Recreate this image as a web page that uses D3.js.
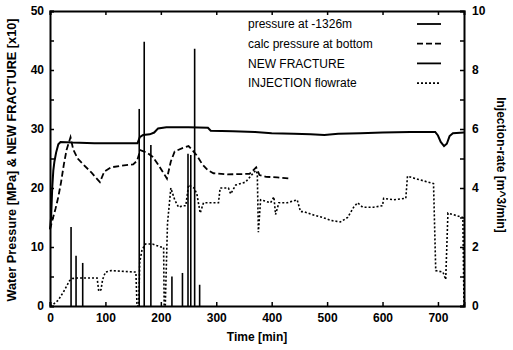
<!DOCTYPE html>
<html lang="en">
<head>
<meta charset="UTF-8">
<title>Water pressure and injection rate</title>
<style>
  body { margin: 0; background: #fff; }
  svg { display: block; }
  text { font-family: "Liberation Sans", Arial, Helvetica, sans-serif; fill: #000; }
  .axis text { font-size: 12px; font-weight: bold; }
  .axis path, .axis line { stroke: #000; }
  .axis path { stroke-width: 2; }
  .axis line { stroke-width: 1.5; }
  .title { font-size: 12px; font-weight: bold; }
  .legend text { font-size: 12px; }
</style>
<script src="https://cdn.jsdelivr.net/npm/d3@7"></script>
</head>
<body>
<svg width="513" height="350"></svg>
<script>
// time [min], value [MPa]
var pressure = [
  [0, 13], [2, 15], [4, 20], [6, 23], [8, 24.5], [11, 26], [15, 27.4], [19, 27.8],
  [40, 27.7], [80, 27.6], [120, 27.6], [158, 27.6], [162, 28.6], [168, 29.0],
  [180, 29.1], [188, 29.4], [195, 30.1], [210, 30.3], [250, 30.3], [285, 30.2],
  [290, 29.7], [330, 29.6], [370, 29.5], [400, 29.3], [440, 29.2], [470, 29.1],
  [495, 29.0], [520, 29.2], [560, 29.3], [600, 29.4], [650, 29.5], [695, 29.5],
  [700, 28.9], [705, 27.8], [711, 27.1], [716, 27.5], [721, 28.8], [727, 29.3], [747, 29.4]
];

// time [min], value [MPa]
var calcPressure = [
  [0, 13], [5, 14.8], [10, 16.5], [15, 18.5], [20, 21], [25, 24], [30, 26.5],
  [37, 28.6], [42, 26.5], [50, 25], [60, 24], [75, 22.6], [90, 21], [98, 22.8],
  [110, 23.5], [130, 23.8], [150, 24], [157, 24.6], [163, 26.4], [175, 26.0],
  [185, 25.3], [195, 24], [203, 22.8], [211, 21.6], [218, 24.5], [225, 26.2],
  [240, 26.8], [250, 27.1], [258, 26.3], [265, 25.5], [275, 24], [285, 23],
  [295, 22.5], [320, 22.3], [360, 22.4], [372, 23.5], [378, 22.2], [390, 21.9],
  [410, 21.8], [434, 21.6]
];

// NEW FRACTURE [x10], time [min] and height
var fractureTimes  = [38, 47, 59, 161, 170, 182, 220, 239, 249, 254, 261, 270];
var fractureValues = [13.4, 8.5, 7.3, 33.4, 44.8, 27.3, 5.0, 5.6, 25.8, 25.6, 43.6, 3.6];

// time [min], injection rate [m^3/min]
var injection = [
  [0, 0], [5, 0.04], [15, 0.2], [25, 0.5], [35, 0.85], [40, 0.93], [50, 0.95],
  [85, 0.95], [88, 0.5], [92, 0.55], [95, 0.9], [100, 1.15], [110, 1.2],
  [155, 1.15], [157, 0], [160, 0], [162, 1.5], [166, 1.9], [172, 2.1], [185, 2.1],
  [200, 2.0], [205, 2.0], [206, 0], [208, 0], [212, 2.8], [218, 4.0], [225, 3.6],
  [232, 3.35], [240, 3.4], [245, 3.4], [250, 4.1], [260, 4.0], [265, 3.8],
  [271, 3.15], [277, 3.5], [295, 3.5], [304, 3.5], [307, 4.0], [322, 4.0],
  [326, 3.8], [335, 4.1], [353, 4.2], [362, 4.4], [371, 4.6], [374, 4.5],
  [376, 2.5], [380, 3.6], [398, 3.5], [404, 3.7], [407, 3.1], [413, 3.5],
  [428, 3.5], [446, 3.6], [452, 3.2], [458, 3.2], [473, 3.1], [492, 3.0],
  [507, 2.9], [524, 2.85], [537, 3.0], [548, 3.35], [555, 3.5], [564, 3.35],
  [584, 3.35], [600, 3.4], [602, 3.65], [620, 3.6], [642, 3.65], [645, 4.4],
  [663, 4.3], [692, 4.15], [696, 1.2], [709, 1.15], [714, 0.9], [718, 3.15],
  [745, 3.0], [747, 0]
];

var legendLabels = ["pressure at -1326m", "calc pressure at bottom", "NEW FRACTURE", "INJECTION flowrate"];
var legendDash = [null, "6,3", null, "2,2"];

var svg = d3.select("svg");

var x = d3.scaleLinear().domain([0, 747]).range([50, 464]);
var yL = d3.scaleLinear().domain([0, 50]).range([306, 11]);
var yR = d3.scaleLinear().domain([0, 10]).range([306, 11]);

// axes, ticks pointing inside
svg.append("g").attr("class", "axis")
    .attr("transform", "translate(0,306)")
    .call(d3.axisBottom(x).tickValues(d3.range(0, 701, 100)).tickSize(-4).tickPadding(7));
svg.append("g").attr("class", "axis")
    .attr("transform", "translate(0,11)")
    .call(d3.axisTop(x).tickValues(d3.range(0, 701, 100)).tickSize(-4).tickFormat(""));
svg.append("g").attr("class", "axis")
    .attr("transform", "translate(50,0)")
    .call(d3.axisLeft(yL).tickValues(d3.range(0, 51, 5)).tickSize(-4).tickPadding(6)
        .tickFormat(function(d) { return d % 10 === 0 ? d : ""; }));
svg.append("g").attr("class", "axis")
    .attr("transform", "translate(464,0)")
    .call(d3.axisRight(yR).tickValues(d3.range(0, 11, 1)).tickSize(-4).tickPadding(8)
        .tickFormat(function(d) { return d % 2 === 0 ? d : ""; }));

var line = d3.line().x(function(d) { return x(d[0]); }).y(function(d) { return yL(d[1]); });
var lineR = d3.line().x(function(d) { return x(d[0]); }).y(function(d) { return yR(d[1]); });

svg.append("path").datum(injection)
    .attr("d", lineR).attr("fill", "none").attr("stroke", "#000")
    .attr("stroke-width", 1.6).attr("stroke-dasharray", "2,2");

svg.append("path").datum(calcPressure)
    .attr("d", line).attr("fill", "none").attr("stroke", "#000")
    .attr("stroke-width", 1.8).attr("stroke-dasharray", "6,3");

svg.append("path").datum(pressure)
    .attr("d", line).attr("fill", "none").attr("stroke", "#000")
    .attr("stroke-width", 2);

svg.append("g").selectAll("line")
    .data(fractureTimes)
    .join("line")
    .attr("x1", function(d) { return x(d); })
    .attr("x2", function(d) { return x(d); })
    .attr("y1", yL(0))
    .attr("y2", function(d, i) { return yL(fractureValues[i]); })
    .attr("stroke", "#000").attr("stroke-width", 1.6);

// legend
var legend = svg.append("g").attr("class", "legend");
legendLabels.forEach(function(label, i) {
    var yy = 24 + i * 19.7;
    legend.append("text").attr("x", 248).attr("y", yy).attr("dy", "0.35em").text(label);
    var l = legend.append("line").attr("x1", 417).attr("x2", 441)
        .attr("y1", yy).attr("y2", yy).attr("stroke", "#000").attr("stroke-width", 1.8);
    if (legendDash[i]) l.attr("stroke-dasharray", legendDash[i]);
});

// titles
svg.append("text").attr("class", "title")
    .attr("x", 257).attr("y", 341).attr("text-anchor", "middle")
    .text("Time [min]");
svg.append("text").attr("class", "title")
    .attr("transform", "translate(16,160) rotate(-90)")
    .attr("text-anchor", "middle")
    .style("font-size", "12.7px")
    .text("Water Pressure [MPa] & NEW FRACTURE [x10]");
svg.append("text").attr("class", "title")
    .attr("transform", "translate(497,165) rotate(90)")
    .attr("text-anchor", "middle")
    .text("Injection-rate [m^3/min]");
</script>
</body>
</html>
